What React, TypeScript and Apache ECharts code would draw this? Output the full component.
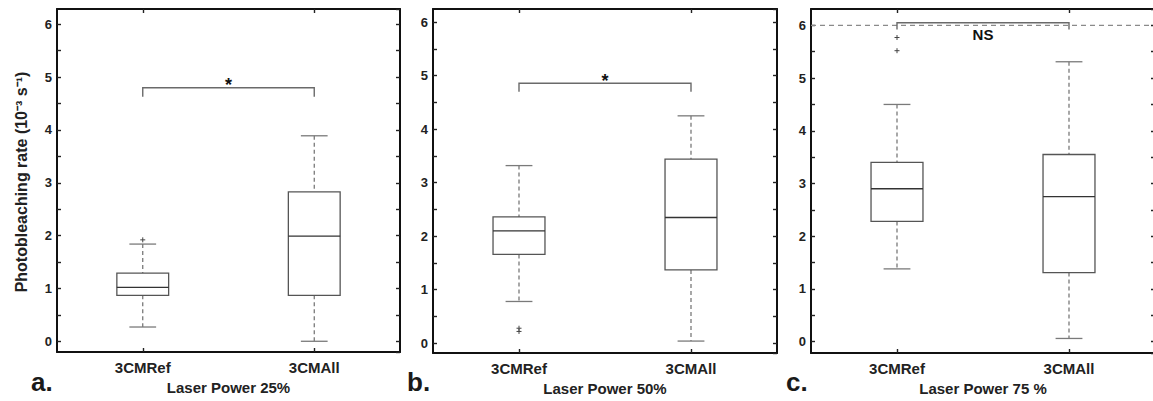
import React, { useEffect, useRef } from 'react';
import * as echarts from 'echarts';

// ---------- data ----------
const categories = ['3CMRef', '3CMAll'];
const panelNames = ['Laser Power 25%', 'Laser Power 50%', 'Laser Power 75 %'];
const panelLetters = ['a.', 'b.', 'c.'];
const yTitle = 'Photobleaching rate (10⁻³ s⁻¹)';

// [category index, lower whisker, Q1, median, Q3, upper whisker]
const boxes25 = [
  [0, 0.27, 0.87, 1.02, 1.29, 1.84],
  [1, 0.0, 0.87, 1.99, 2.83, 3.89],
];
const boxes50 = [
  [0, 0.78, 1.66, 2.1, 2.36, 3.32],
  [1, 0.04, 1.37, 2.35, 3.44, 4.25],
];
const boxes75 = [
  [0, 1.38, 2.28, 2.9, 3.4, 4.5],
  [1, 0.06, 1.31, 2.75, 3.55, 5.31],
];
// [category index, value]
const outliers25 = [[0, 1.92]];
const outliers50 = [[0, 0.22], [0, 0.28]];
const outliers75 = [[0, 5.52], [0, 5.77]];
// [from category, to category, bar level, leg end level, label level]
const bracket25 = [[0, 1, 4.8, 4.63, 4.86]];
const bracket50 = [[0, 1, 4.86, 4.7, 4.91]];
const bracket75 = [[0, 1, 6.05, 5.92, 5.82]];
const bracketLabels = ['*', '*', 'NS'];
// reference line in panel c: [category, value]
const refLine75 = [[0, 6]];
// y axis extents per panel
const yRanges = [
  [-0.203, 6.29],
  [-0.183, 6.247],
  [-0.216, 6.311],
];

const boxesAll = [boxes25, boxes50, boxes75];
const outliersAll = [outliers25, outliers50, outliers75];
const bracketsAll = [bracket25, bracket50, bracket75];

// ---------- layout / style ----------
const FONT = '"Liberation Sans", Arial, Helvetica, sans-serif';
const grids = [
  { left: 57, top: 9, width: 343, height: 343 },
  { left: 433, top: 9, width: 344, height: 344 },
  { left: 811, top: 9, width: 344, height: 344 },
];
const letterX = [31, 407, 786];

function renderBox(params: any, api: any) {
  const c = api.value(0);
  const pLo = api.coord([c, api.value(1)]);
  const cx = pLo[0];
  const yLo = pLo[1];
  const yQ1 = api.coord([c, api.value(2)])[1];
  const yMed = api.coord([c, api.value(3)])[1];
  const yQ3 = api.coord([c, api.value(4)])[1];
  const yHi = api.coord([c, api.value(5)])[1];
  const band = api.size([1, 0])[0];
  const hw = band * 0.151;
  const cw = band * 0.078;
  const whisk = { stroke: '#6e6e6e', lineWidth: 1.2, lineDash: [4, 3], fill: 'none' };
  const cap = { stroke: '#7a7a7a', lineWidth: 1.3, fill: 'none' };
  return {
    type: 'group',
    children: [
      { type: 'line', shape: { x1: cx, y1: yHi, x2: cx, y2: yQ3 }, style: whisk },
      { type: 'line', shape: { x1: cx, y1: yQ1, x2: cx, y2: yLo }, style: whisk },
      { type: 'line', shape: { x1: cx - cw, y1: yHi, x2: cx + cw, y2: yHi }, style: cap },
      { type: 'line', shape: { x1: cx - cw, y1: yLo, x2: cx + cw, y2: yLo }, style: cap },
      {
        type: 'rect',
        shape: { x: cx - hw, y: yQ3, width: 2 * hw, height: yQ1 - yQ3 },
        style: { fill: '#fff', stroke: '#555', lineWidth: 1.3 },
      },
      {
        type: 'line',
        shape: { x1: cx - hw, y1: yMed, x2: cx + hw, y2: yMed },
        style: { stroke: '#333', lineWidth: 1.3 },
      },
    ],
  };
}

function renderOutlier(params: any, api: any) {
  const p = api.coord([api.value(0), api.value(1)]);
  const s = 2.5;
  const st = { stroke: '#444', lineWidth: 1 };
  return {
    type: 'group',
    children: [
      { type: 'line', shape: { x1: p[0] - s, y1: p[1], x2: p[0] + s, y2: p[1] }, style: st },
      { type: 'line', shape: { x1: p[0], y1: p[1] - s, x2: p[0], y2: p[1] + s }, style: st },
    ],
  };
}

function makeBracketRenderer(label: string, fontSize: number) {
  return (params: any, api: any) => {
    const p0 = api.coord([api.value(0), api.value(2)]);
    const x0 = p0[0];
    const yBar = p0[1];
    const x1 = api.coord([api.value(1), api.value(2)])[0];
    const yLeg = api.coord([api.value(0), api.value(3)])[1];
    const yTxt = api.coord([api.value(0), api.value(4)])[1];
    return {
      type: 'group',
      children: [
        {
          type: 'polyline',
          shape: { points: [[x0, yLeg], [x0, yBar], [x1, yBar], [x1, yLeg]] },
          style: { stroke: '#6a6a6a', lineWidth: 1.4, fill: 'none' },
        },
        {
          type: 'text',
          style: {
            text: label,
            x: (x0 + x1) / 2,
            y: yTxt,
            textAlign: 'center',
            align: 'center',
            textVerticalAlign: 'middle',
            verticalAlign: 'middle',
            font: `bold ${fontSize}px ${FONT}`,
            fill: '#111',
          },
        },
      ],
    };
  };
}

function renderRefLine(params: any, api: any) {
  const y = api.coord([api.value(0), api.value(1)])[1];
  const cs = params.coordSys;
  return {
    type: 'line',
    shape: { x1: cs.x, y1: y, x2: cs.x + cs.width, y2: y },
    style: { stroke: '#8a8a8a', lineWidth: 1.3, lineDash: [5, 4] },
  };
}

function buildOption() {
  const axisLine = { show: true, onZero: false, lineStyle: { color: '#111', width: 2 } };
  const tick = { show: true, inside: true, length: 4, lineStyle: { color: '#222', width: 1.4 } };
  const xAxes: any[] = [];
  const yAxes: any[] = [];
  const series: any[] = [];
  for (let i = 0; i < 3; i++) {
    xAxes.push({
      type: 'category',
      gridIndex: i,
      data: categories,
      position: 'bottom',
      axisLine,
      axisTick: { ...tick, alignWithLabel: true },
      axisLabel: { fontSize: 15, fontWeight: 'bold', color: '#222', margin: 8, fontFamily: FONT },
      name: panelNames[i],
      nameLocation: 'middle',
      nameGap: 24,
      nameTextStyle: { fontSize: 15, fontWeight: 'bold', color: '#222', fontFamily: FONT },
      splitLine: { show: false },
    });
    xAxes.push({
      type: 'category',
      gridIndex: i,
      data: categories,
      position: 'top',
      axisLine,
      axisTick: { ...tick, alignWithLabel: true },
      axisLabel: { show: false },
      splitLine: { show: false },
    });
    const [mn, mx] = yRanges[i];
    const common = {
      type: 'value',
      gridIndex: i,
      min: mn,
      max: mx,
      splitNumber: 13,
      axisLine,
      axisTick: tick,
      splitLine: { show: false },
    };
    yAxes.push({
      ...common,
      position: 'left',
      axisLabel: {
        show: true,
        margin: 5,
        fontSize: 13,
        fontWeight: 'bold',
        color: '#222',
        fontFamily: FONT,
        showMinLabel: false,
        showMaxLabel: false,
        formatter: (v: number) => (Math.abs(v - Math.round(v)) < 1e-6 ? String(Math.round(v)) : ''),
      },
    });
    yAxes.push({
      ...common,
      position: 'right',
      axisLabel: { show: false },
    });

    const xi = 2 * i;
    const yi = 2 * i;
    if (i === 2) {
      series.push({
        type: 'custom',
        xAxisIndex: xi,
        yAxisIndex: yi,
        data: refLine75,
        encode: { x: 0, y: 1 },
        renderItem: renderRefLine,
        silent: true,
      });
    }
    series.push({
      type: 'custom',
      xAxisIndex: xi,
      yAxisIndex: yi,
      data: boxesAll[i],
      encode: { x: 0, y: [1, 2, 3, 4, 5] },
      renderItem: renderBox,
      silent: true,
    });
    series.push({
      type: 'custom',
      xAxisIndex: xi,
      yAxisIndex: yi,
      data: outliersAll[i],
      encode: { x: 0, y: 1 },
      renderItem: renderOutlier,
      silent: true,
    });
    series.push({
      type: 'custom',
      xAxisIndex: xi,
      yAxisIndex: yi,
      data: bracketsAll[i],
      encode: { x: [0, 1], y: [2, 3, 4] },
      renderItem: makeBracketRenderer(bracketLabels[i], i === 2 ? 15 : 18),
      silent: true,
    });
  }

  const graphic: any[] = [
    {
      type: 'text',
      x: 21,
      y: 182,
      rotation: Math.PI / 2,
      style: {
        text: yTitle,
        font: `bold 16px ${FONT}`,
        textAlign: 'center',
        textVerticalAlign: 'middle',
        fill: '#222',
      },
    },
  ];
  panelLetters.forEach((t, i) => {
    graphic.push({
      type: 'text',
      x: letterX[i],
      y: 381.5,
      style: {
        text: t,
        font: `bold 26px ${FONT}`,
        textAlign: 'left',
        textVerticalAlign: 'middle',
        fill: '#1a1a1a',
      },
    });
  });

  return {
    animation: false,
    backgroundColor: '#fff',
    grid: grids.map((g) => ({ ...g, containLabel: false, outerBoundsMode: 'none' })),
    xAxis: xAxes,
    yAxis: yAxes,
    series,
    graphic,
  };
}

export default function App() {
  const ref = useRef<HTMLDivElement>(null);
  useEffect(() => {
    const chart = echarts.init(ref.current as HTMLDivElement, null, { renderer: 'svg' });
    chart.setOption(buildOption() as any);
    return () => {
      chart.dispose();
    };
  }, []);
  return (
    <div
      ref={ref}
      style={{ position: 'absolute', left: 0, top: 0, width: 1153, height: 401, background: '#fff' }}
    />
  );
}
